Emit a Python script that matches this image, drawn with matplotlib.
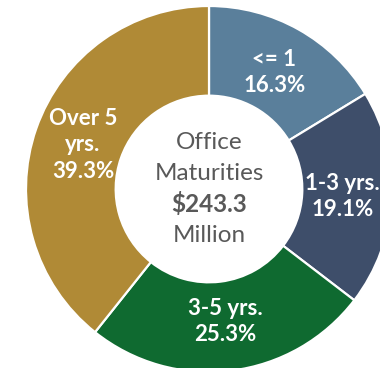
import matplotlib.pyplot as plt
import numpy as np

# maturity buckets for office loans
buckets = ['<= 1', '1-3 yrs.', '3-5 yrs.', 'Over 5\nyrs.']
shares = [16.3, 19.1, 25.3, 39.3]
colors = ['#5a7f9b', '#3e4e6a', '#0f6a30', '#b08a36']
total_label = '$243.3'

plt.rcParams['font.family'] = ['Lato', 'DejaVu Sans']

fig = plt.figure(figsize=(3.8, 3.68), dpi=100)
ax = fig.add_axes([0, 0, 1, 1])

# donut, clockwise from 12 o'clock
wedges, _ = ax.pie(shares, colors=colors, startangle=90, counterclock=False,
                   radius=1.0,
                   wedgeprops=dict(width=0.49, edgecolor='white', linewidth=1.6))

# labels inside each ring segment
for w, name, val in zip(wedges, buckets, shares):
    ang = np.deg2rad((w.theta1 + w.theta2) / 2)
    r = 0.73
    ax.text(r * np.cos(ang), r * np.sin(ang), f'{name}\n{val:.1f}%',
            ha='center', va='center', color='white', fontsize=16,
            fontweight='bold', linespacing=1.3)

# centre caption
step = 0.168
gray = '#595959'
fs = 17.5
ax.text(0, 1.5 * step, 'Office', ha='center', va='center', color=gray, fontsize=fs)
ax.text(0, 0.5 * step, 'Maturities', ha='center', va='center', color=gray, fontsize=fs)
ax.text(0, -0.5 * step, total_label, ha='center', va='center', color=gray,
        fontsize=fs, fontweight='bold')
ax.text(0, -1.5 * step, 'Million', ha='center', va='center', color=gray, fontsize=fs)

# hole centre sits at (209, 189) px with outer radius 183 px
R = 183.0
ax.set_xlim(-209 / R, (380 - 209) / R)
ax.set_ylim(-(368 - 189) / R, 189 / R)
ax.set_aspect('auto')
ax.axis('off')

fig.savefig('out.png', dpi=100)
